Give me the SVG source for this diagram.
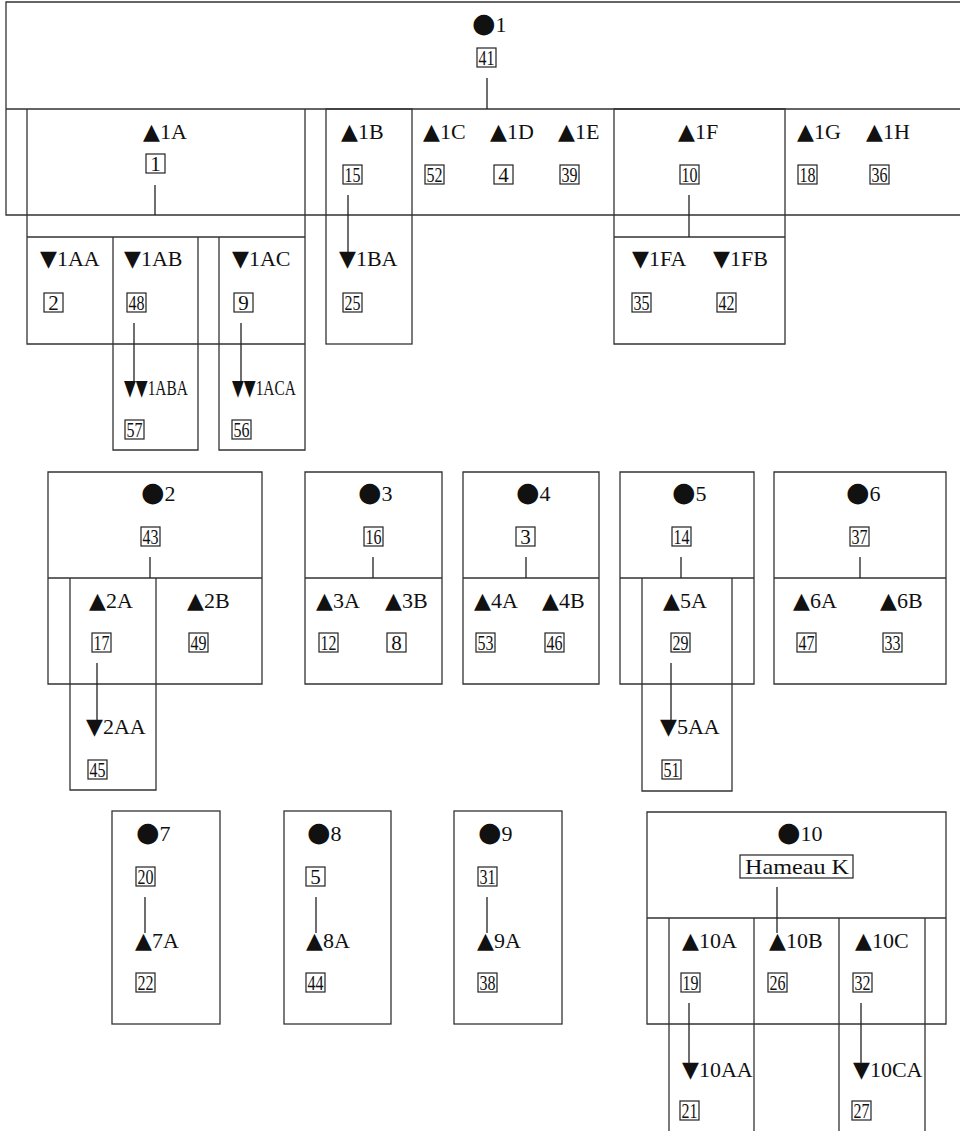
<svg xmlns="http://www.w3.org/2000/svg" width="960" height="1131" viewBox="0 0 960 1131">
<style>
.f{fill:none;stroke:#333;stroke-width:1.3}
.l{font-family:"Liberation Serif","DejaVu Serif",serif;font-size:22px;fill:#111}
.s{font-family:"DejaVu Sans",sans-serif;font-size:22px}
.d{font-family:"DejaVu Sans",sans-serif;font-size:27px}
.nb{fill:#fff;stroke:#222;stroke-width:1.2}
.n{font-family:"Liberation Serif","DejaVu Serif",serif;font-size:21px;fill:#111;text-anchor:middle}
.c{stroke:#222;stroke-width:1.3;fill:none}
</style>
<rect width="960" height="1131" fill="#fff"/>

<g id="n1">
<path class="f" d="M960,2H6V215H960M6,109H960"/>
<text class="l" x="472" y="32"><tspan class="d">●</tspan>1</text>
<rect class="nb" x="477" y="48" width="19" height="19"/><text class="n" x="486.5" y="65" textLength="16" lengthAdjust="spacingAndGlyphs">41</text>
</g>
<g id="n1A">
<path class="f" d="M27,109V344H305M305,109V450H219V237M27,237H305M113,237V450H198V237"/>
<text class="l" x="143" y="139"><tspan class="s">▲</tspan>1A</text>
<rect class="nb" x="146" y="154" width="19" height="19"/><text class="n" x="155.5" y="171">1</text>
</g>
<g id="n1AA">
<text class="l" x="40" y="266"><tspan class="s">▼</tspan>1AA</text>
<rect class="nb" x="44" y="293" width="19" height="19"/><text class="n" x="53.5" y="310">2</text>
</g>
<g id="n1AB">
<text class="l" x="124" y="266"><tspan class="s">▼</tspan>1AB</text>
<rect class="nb" x="127" y="293" width="19" height="19"/><text class="n" x="136.5" y="310" textLength="16" lengthAdjust="spacingAndGlyphs">48</text>
</g>
<g id="n1ABA">
<text class="l" transform="translate(124,395) scale(0.7,1)" x="0" y="0"><tspan class="s">▼▼</tspan>1ABA</text>
<rect class="nb" x="125" y="420" width="19" height="19"/><text class="n" x="134.5" y="437" textLength="16" lengthAdjust="spacingAndGlyphs">57</text>
</g>
<g id="n1AC">
<text class="l" x="232" y="266"><tspan class="s">▼</tspan>1AC</text>
<rect class="nb" x="234" y="293" width="19" height="19"/><text class="n" x="243.5" y="310">9</text>
</g>
<g id="n1ACA">
<text class="l" transform="translate(232,395) scale(0.7,1)" x="0" y="0"><tspan class="s">▼▼</tspan>1ACA</text>
<rect class="nb" x="232" y="420" width="19" height="19"/><text class="n" x="241.5" y="437" textLength="16" lengthAdjust="spacingAndGlyphs">56</text>
</g>
<g id="n1B">
<rect class="f" x="326" y="109" width="86" height="235"/>
<text class="l" x="341" y="139"><tspan class="s">▲</tspan>1B</text>
<rect class="nb" x="343" y="165" width="19" height="19"/><text class="n" x="352.5" y="182" textLength="16" lengthAdjust="spacingAndGlyphs">15</text>
</g>
<g id="n1BA">
<text class="l" x="339" y="266"><tspan class="s">▼</tspan>1BA</text>
<rect class="nb" x="343" y="293" width="19" height="19"/><text class="n" x="352.5" y="310" textLength="16" lengthAdjust="spacingAndGlyphs">25</text>
</g>
<g id="n1C">
<text class="l" x="423" y="139"><tspan class="s">▲</tspan>1C</text>
<rect class="nb" x="425" y="165" width="19" height="19"/><text class="n" x="434.5" y="182" textLength="16" lengthAdjust="spacingAndGlyphs">52</text>
</g>
<g id="n1D">
<text class="l" x="490" y="139"><tspan class="s">▲</tspan>1D</text>
<rect class="nb" x="494" y="165" width="19" height="19"/><text class="n" x="503.5" y="182">4</text>
</g>
<g id="n1E">
<text class="l" x="558" y="139"><tspan class="s">▲</tspan>1E</text>
<rect class="nb" x="560" y="165" width="19" height="19"/><text class="n" x="569.5" y="182" textLength="16" lengthAdjust="spacingAndGlyphs">39</text>
</g>
<g id="n1F">
<path class="f" d="M614,109H785V344H614ZM614,237H785"/>
<text class="l" x="678" y="139"><tspan class="s">▲</tspan>1F</text>
<rect class="nb" x="680" y="165" width="19" height="19"/><text class="n" x="689.5" y="182" textLength="16" lengthAdjust="spacingAndGlyphs">10</text>
</g>
<g id="n1FA">
<text class="l" x="632" y="266"><tspan class="s">▼</tspan>1FA</text>
<rect class="nb" x="632" y="293" width="19" height="19"/><text class="n" x="641.5" y="310" textLength="16" lengthAdjust="spacingAndGlyphs">35</text>
</g>
<g id="n1FB">
<text class="l" x="713" y="266"><tspan class="s">▼</tspan>1FB</text>
<rect class="nb" x="717" y="293" width="19" height="19"/><text class="n" x="726.5" y="310" textLength="16" lengthAdjust="spacingAndGlyphs">42</text>
</g>
<g id="n1G">
<text class="l" x="797" y="139"><tspan class="s">▲</tspan>1G</text>
<rect class="nb" x="798" y="165" width="19" height="19"/><text class="n" x="807.5" y="182" textLength="16" lengthAdjust="spacingAndGlyphs">18</text>
</g>
<g id="n1H">
<text class="l" x="866" y="139"><tspan class="s">▲</tspan>1H</text>
<rect class="nb" x="870" y="165" width="19" height="19"/><text class="n" x="879.5" y="182" textLength="16" lengthAdjust="spacingAndGlyphs">36</text>
</g>

<g id="n2">
<path class="f" d="M48,472H262V684H48ZM48,578H262"/>
<text class="l" x="141" y="501"><tspan class="d">●</tspan>2</text>
<rect class="nb" x="141" y="527" width="19" height="19"/><text class="n" x="150.5" y="544" textLength="16" lengthAdjust="spacingAndGlyphs">43</text>
</g>
<g id="n2A">
<path class="f" d="M70,578V790H156V578"/>
<text class="l" x="89" y="608"><tspan class="s">▲</tspan>2A</text>
<rect class="nb" x="92" y="633" width="19" height="19"/><text class="n" x="101.5" y="650" textLength="16" lengthAdjust="spacingAndGlyphs">17</text>
</g>
<g id="n2AA">
<text class="l" x="86" y="734"><tspan class="s">▼</tspan>2AA</text>
<rect class="nb" x="88" y="760" width="19" height="19"/><text class="n" x="97.5" y="777" textLength="16" lengthAdjust="spacingAndGlyphs">45</text>
</g>
<g id="n2B">
<text class="l" x="187" y="608"><tspan class="s">▲</tspan>2B</text>
<rect class="nb" x="189" y="633" width="19" height="19"/><text class="n" x="198.5" y="650" textLength="16" lengthAdjust="spacingAndGlyphs">49</text>
</g>

<g id="n3">
<path class="f" d="M305,472H442V684H305ZM305,578H442"/>
<text class="l" x="358" y="501"><tspan class="d">●</tspan>3</text>
<rect class="nb" x="364" y="527" width="19" height="19"/><text class="n" x="373.5" y="544" textLength="16" lengthAdjust="spacingAndGlyphs">16</text>
</g>
<g id="n3A">
<text class="l" x="316" y="608"><tspan class="s">▲</tspan>3A</text>
<rect class="nb" x="319" y="633" width="19" height="19"/><text class="n" x="328.5" y="650" textLength="16" lengthAdjust="spacingAndGlyphs">12</text>
</g>
<g id="n3B">
<text class="l" x="385" y="608"><tspan class="s">▲</tspan>3B</text>
<rect class="nb" x="387" y="633" width="19" height="19"/><text class="n" x="396.5" y="650">8</text>
</g>

<g id="n4">
<path class="f" d="M463,472H599V684H463ZM463,578H599"/>
<text class="l" x="516" y="501"><tspan class="d">●</tspan>4</text>
<rect class="nb" x="516" y="527" width="19" height="19"/><text class="n" x="525.5" y="544">3</text>
</g>
<g id="n4A">
<text class="l" x="474" y="608"><tspan class="s">▲</tspan>4A</text>
<rect class="nb" x="476" y="633" width="19" height="19"/><text class="n" x="485.5" y="650" textLength="16" lengthAdjust="spacingAndGlyphs">53</text>
</g>
<g id="n4B">
<text class="l" x="542" y="608"><tspan class="s">▲</tspan>4B</text>
<rect class="nb" x="545" y="633" width="19" height="19"/><text class="n" x="554.5" y="650" textLength="16" lengthAdjust="spacingAndGlyphs">46</text>
</g>

<g id="n5">
<path class="f" d="M620,472H754V684H620ZM620,578H754"/>
<text class="l" x="672" y="501"><tspan class="d">●</tspan>5</text>
<rect class="nb" x="672" y="527" width="19" height="19"/><text class="n" x="681.5" y="544" textLength="16" lengthAdjust="spacingAndGlyphs">14</text>
</g>
<g id="n5A">
<path class="f" d="M642,578V791H732V578"/>
<text class="l" x="663" y="608"><tspan class="s">▲</tspan>5A</text>
<rect class="nb" x="671" y="633" width="19" height="19"/><text class="n" x="680.5" y="650" textLength="16" lengthAdjust="spacingAndGlyphs">29</text>
</g>
<g id="n5AA">
<text class="l" x="660" y="734"><tspan class="s">▼</tspan>5AA</text>
<rect class="nb" x="662" y="760" width="19" height="19"/><text class="n" x="671.5" y="777" textLength="16" lengthAdjust="spacingAndGlyphs">51</text>
</g>

<g id="n6">
<path class="f" d="M774,472H946V684H774ZM774,578H946"/>
<text class="l" x="846" y="501"><tspan class="d">●</tspan>6</text>
<rect class="nb" x="850" y="527" width="19" height="19"/><text class="n" x="859.5" y="544" textLength="16" lengthAdjust="spacingAndGlyphs">37</text>
</g>
<g id="n6A">
<text class="l" x="793" y="608"><tspan class="s">▲</tspan>6A</text>
<rect class="nb" x="797" y="633" width="19" height="19"/><text class="n" x="806.5" y="650" textLength="16" lengthAdjust="spacingAndGlyphs">47</text>
</g>
<g id="n6B">
<text class="l" x="880" y="608"><tspan class="s">▲</tspan>6B</text>
<rect class="nb" x="883" y="633" width="19" height="19"/><text class="n" x="892.5" y="650" textLength="16" lengthAdjust="spacingAndGlyphs">33</text>
</g>

<g id="n7">
<rect class="f" x="112" y="811" width="108" height="213"/>
<text class="l" x="136" y="841"><tspan class="d">●</tspan>7</text>
<rect class="nb" x="136" y="867" width="19" height="19"/><text class="n" x="145.5" y="884" textLength="16" lengthAdjust="spacingAndGlyphs">20</text>
</g>
<g id="n7A">
<text class="l" x="135" y="948"><tspan class="s">▲</tspan>7A</text>
<rect class="nb" x="136" y="973" width="19" height="19"/><text class="n" x="145.5" y="990" textLength="16" lengthAdjust="spacingAndGlyphs">22</text>
</g>
<g id="n8">
<rect class="f" x="284" y="811" width="107" height="213"/>
<text class="l" x="307" y="841"><tspan class="d">●</tspan>8</text>
<rect class="nb" x="306" y="867" width="19" height="19"/><text class="n" x="315.5" y="884">5</text>
</g>
<g id="n8A">
<text class="l" x="306" y="948"><tspan class="s">▲</tspan>8A</text>
<rect class="nb" x="306" y="973" width="19" height="19"/><text class="n" x="315.5" y="990" textLength="16" lengthAdjust="spacingAndGlyphs">44</text>
</g>
<g id="n9">
<rect class="f" x="454" y="811" width="108" height="213"/>
<text class="l" x="478" y="841"><tspan class="d">●</tspan>9</text>
<rect class="nb" x="478" y="867" width="19" height="19"/><text class="n" x="487.5" y="884" textLength="16" lengthAdjust="spacingAndGlyphs">31</text>
</g>
<g id="n9A">
<text class="l" x="477" y="948"><tspan class="s">▲</tspan>9A</text>
<rect class="nb" x="478" y="973" width="19" height="19"/><text class="n" x="487.5" y="990" textLength="16" lengthAdjust="spacingAndGlyphs">38</text>
</g>

<g id="n10">
<path class="f" d="M647,812H946V1024H647ZM647,918H946"/>
<text class="l" x="777" y="841"><tspan class="d">●</tspan>10</text>
<rect class="nb" x="740" y="855" width="113" height="23"/><text class="l" x="745" y="874" textLength="104" lengthAdjust="spacingAndGlyphs">Hameau K</text>
</g>
<g id="n10A">
<path class="f" d="M669,918V1131M754,918V1131"/>
<text class="l" x="682" y="948"><tspan class="s">▲</tspan>10A</text>
<rect class="nb" x="681" y="973" width="19" height="19"/><text class="n" x="690.5" y="990" textLength="16" lengthAdjust="spacingAndGlyphs">19</text>
</g>
<g id="n10AA">
<text class="l" x="682" y="1077"><tspan class="s">▼</tspan>10AA</text>
<rect class="nb" x="680" y="1101" width="19" height="19"/><text class="n" x="689.5" y="1118" textLength="16" lengthAdjust="spacingAndGlyphs">21</text>
</g>
<g id="n10B">
<text class="l" x="769" y="948"><tspan class="s">▲</tspan>10B</text>
<rect class="nb" x="768" y="973" width="19" height="19"/><text class="n" x="777.5" y="990" textLength="16" lengthAdjust="spacingAndGlyphs">26</text>
</g>
<g id="n10C">
<path class="f" d="M839,918V1131M925,918V1131"/>
<text class="l" x="855" y="948"><tspan class="s">▲</tspan>10C</text>
<rect class="nb" x="853" y="973" width="19" height="19"/><text class="n" x="862.5" y="990" textLength="16" lengthAdjust="spacingAndGlyphs">32</text>
</g>
<g id="n10CA">
<text class="l" x="853" y="1077"><tspan class="s">▼</tspan>10CA</text>
<rect class="nb" x="852" y="1101" width="19" height="19"/><text class="n" x="861.5" y="1118" textLength="16" lengthAdjust="spacingAndGlyphs">27</text>
</g>

<g id="connectors" class="c">
<path d="M487,78V109M155,185V215M348,195V252M689,195V237M134,323V381M241,323V381M150,557V578M373,557V578M526,557V578M681,557V578M860,557V578M97,663V720M671,663V720M145,897V933M316,897V933M487,897V933M777,887V933M689,1003V1064M861,1003V1064"/>
</g>
</svg>
